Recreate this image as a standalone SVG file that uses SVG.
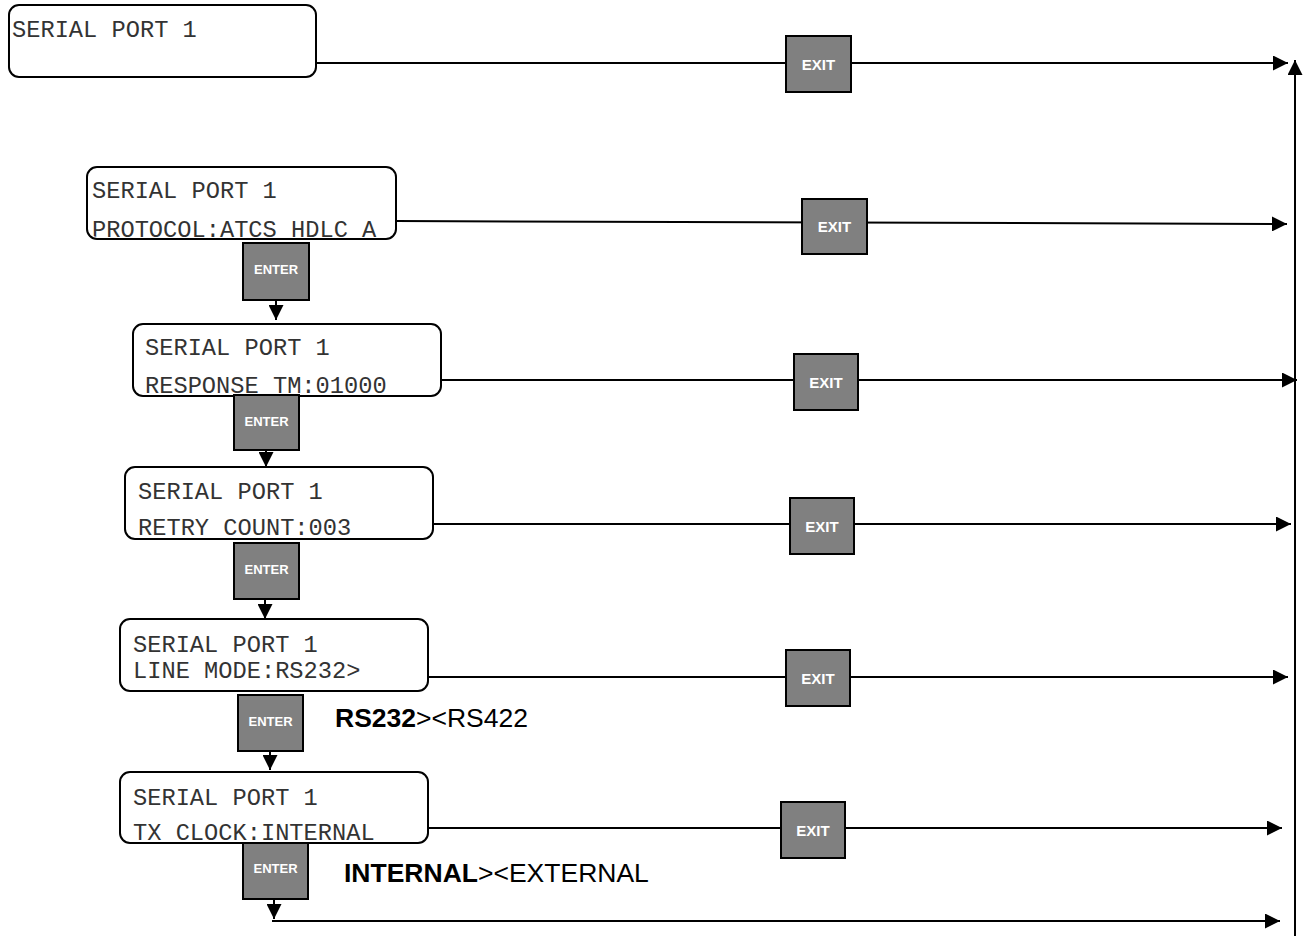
<svg xmlns="http://www.w3.org/2000/svg" width="1306" height="936" viewBox="0 0 1306 936">
<style>
.node{fill:#fff;stroke:#000;stroke-width:2}
.mono{font-family:"Liberation Mono","Courier New",monospace;font-size:23.7px;fill:#333}
.btn{fill:#808080;stroke:#000;stroke-width:2}
.btxt{font-family:"Liberation Sans",Arial,sans-serif;font-weight:bold;fill:#fff;text-anchor:middle}
.enter{font-size:13px}
.exit{font-size:15px}
.conn{stroke:#000;stroke-width:2;fill:none}
.lbl{font-family:"Liberation Sans",Arial,sans-serif;font-size:26.5px;fill:#000}
</style>
<defs>
<marker id="ah" markerUnits="userSpaceOnUse" markerWidth="16" markerHeight="15" refX="15" refY="7.5" orient="auto">
<path d="M0,0 L15,7.5 L0,15 z" fill="#000"/>
</marker>
<clipPath id="c2"><rect x="87" y="167" width="309" height="70" rx="10"/></clipPath>
</defs>
<g id="connectors">
<line class="conn" x1="315" y1="63" x2="1288" y2="63" marker-end="url(#ah)"/>
<line class="conn" x1="396" y1="221" x2="1287" y2="224" marker-end="url(#ah)"/>
<line class="conn" x1="441" y1="380" x2="1297" y2="380" marker-end="url(#ah)"/>
<line class="conn" x1="433" y1="524" x2="1291" y2="524" marker-end="url(#ah)"/>
<line class="conn" x1="429" y1="677" x2="1288" y2="677" marker-end="url(#ah)"/>
<line class="conn" x1="429" y1="828" x2="1282" y2="828" marker-end="url(#ah)"/>
<line class="conn" x1="272" y1="921" x2="1280" y2="921" marker-end="url(#ah)"/>
<line class="conn" x1="1295" y1="936" x2="1295" y2="60" marker-end="url(#ah)"/>
<line class="conn" x1="276" y1="298" x2="276" y2="320" marker-end="url(#ah)"/>
<line class="conn" x1="266" y1="450" x2="266" y2="467" marker-end="url(#ah)"/>
<line class="conn" x1="265" y1="598" x2="265" y2="619" marker-end="url(#ah)"/>
<line class="conn" x1="270" y1="751" x2="270" y2="770" marker-end="url(#ah)"/>
<line class="conn" x1="274" y1="898" x2="274" y2="919" marker-end="url(#ah)"/>
</g>
<g id="node1">
<rect class="node" x="9" y="5" width="307" height="72" rx="10"/>
<text class="mono" x="12" y="37">SERIAL PORT 1</text>
</g>
<g id="node2">
<rect class="node" x="87" y="167" width="309" height="72" rx="10"/>
<g clip-path="url(#c2)">
<text class="mono" x="92" y="198">SERIAL PORT 1</text>
<text class="mono" x="92" y="237">PROTOCOL:ATCS HDLC A</text>
</g>
</g>
<g id="node3">
<rect class="node" x="133" y="324" width="308" height="72" rx="10"/>
<text class="mono" x="145" y="355">SERIAL PORT 1</text>
<text class="mono" x="145" y="393">RESPONSE TM:01000</text>
</g>
<g id="node4">
<rect class="node" x="125" y="467" width="308" height="72" rx="10"/>
<text class="mono" x="138" y="499">SERIAL PORT 1</text>
<text class="mono" x="138" y="535">RETRY COUNT:003</text>
</g>
<g id="node5">
<rect class="node" x="120" y="619" width="308" height="72" rx="10"/>
<text class="mono" x="133" y="652">SERIAL PORT 1</text>
<text class="mono" x="133" y="678">LINE MODE:RS232&gt;</text>
</g>
<g id="node6">
<rect class="node" x="120" y="772" width="308" height="71" rx="10"/>
<text class="mono" x="133" y="805">SERIAL PORT 1</text>
<text class="mono" x="133" y="840">TX CLOCK:INTERNAL</text>
</g>
<g id="exit1"><rect class="btn" x="786" y="36" width="65" height="56"/><text class="btxt exit" x="818.5" y="69.5">EXIT</text></g>
<g id="exit2"><rect class="btn" x="802" y="199" width="65" height="55"/><text class="btxt exit" x="834.5" y="232">EXIT</text></g>
<g id="exit3"><rect class="btn" x="794" y="354" width="64" height="56"/><text class="btxt exit" x="826" y="387.5">EXIT</text></g>
<g id="exit4"><rect class="btn" x="790" y="498" width="64" height="56"/><text class="btxt exit" x="822" y="531.5">EXIT</text></g>
<g id="exit5"><rect class="btn" x="786" y="650" width="64" height="56"/><text class="btxt exit" x="818" y="683.5">EXIT</text></g>
<g id="exit6"><rect class="btn" x="781" y="802" width="64" height="56"/><text class="btxt exit" x="813" y="835.5">EXIT</text></g>
<g id="enter1"><rect class="btn" x="243" y="243" width="66" height="57"/><text class="btxt enter" x="276" y="274">ENTER</text></g>
<g id="enter2"><rect class="btn" x="234" y="395" width="65" height="55"/><text class="btxt enter" x="266.5" y="426">ENTER</text></g>
<g id="enter3"><rect class="btn" x="234" y="543" width="65" height="56"/><text class="btxt enter" x="266.5" y="574">ENTER</text></g>
<g id="enter4"><rect class="btn" x="238" y="695" width="65" height="56"/><text class="btxt enter" x="270.5" y="726">ENTER</text></g>
<g id="enter5"><rect class="btn" x="243" y="843" width="65" height="56"/><text class="btxt enter" x="275.5" y="873">ENTER</text></g>
<g id="label-linemode"><text class="lbl" x="335" y="727"><tspan font-weight="bold">RS232</tspan>&gt;&lt;RS422</text></g>
<g id="label-txclock"><text class="lbl" x="344" y="882"><tspan font-weight="bold">INTERNAL</tspan>&gt;&lt;EXTERNAL</text></g>
</svg>
